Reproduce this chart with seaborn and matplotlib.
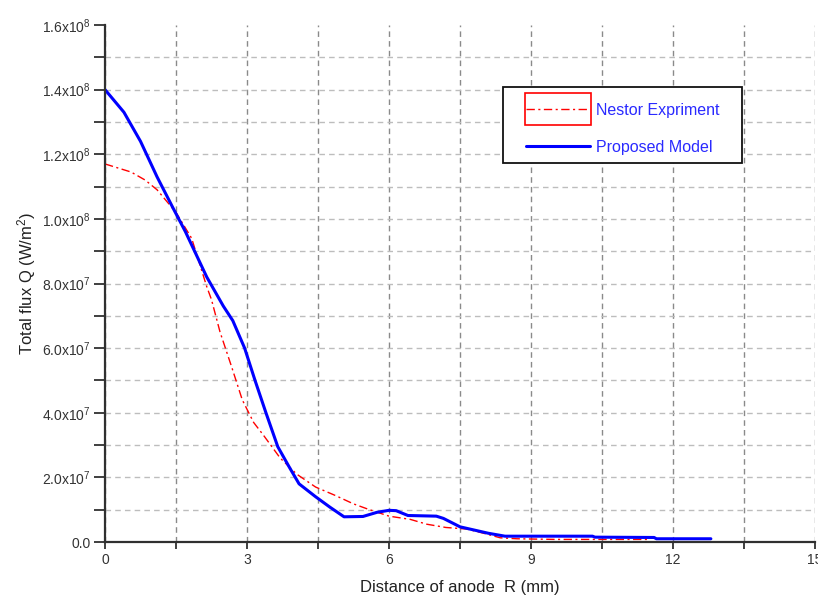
import numpy as np
import pandas as pd
import matplotlib
matplotlib.use("Agg")
import matplotlib.pyplot as plt
import matplotlib.ticker as mticker
from matplotlib.patches import Rectangle
import seaborn as sns

# ---------------- data ----------------
model_r = [0, 0.4, 0.75, 1.1, 1.45, 1.7, 2.15, 2.5, 2.7, 2.95, 3.17, 3.4, 3.65,
           3.9, 4.1, 4.45, 4.75, 5.05, 5.45, 5.75, 6.0, 6.15, 6.4, 7.0, 7.15,
           7.5, 7.8, 8.1, 8.45, 10.3, 10.35, 11.6, 11.65, 12.8]
model_q = [14.0, 13.3, 12.4, 11.3, 10.3, 9.6, 8.2, 7.3, 6.85, 6.0, 5.0, 4.0, 2.95,
           2.3, 1.8, 1.4, 1.08, 0.78, 0.79, 0.92, 0.98, 0.97, 0.82, 0.8, 0.73,
           0.47, 0.37, 0.27, 0.18, 0.18, 0.15, 0.14, 0.1, 0.1]  # x 1e7

exp_r = [0, 0.55, 0.85, 1.1, 1.5, 1.83, 2.15, 2.25, 2.43, 2.68, 2.9, 3.14, 3.35,
         3.7, 4.05, 4.45, 4.85, 5.25, 5.55, 6.0, 6.45, 6.8, 7.2, 7.65, 8.0,
         8.35, 8.7, 9.5, 11.5]
exp_q = [11.7, 11.45, 11.2, 10.9, 10.2, 9.4, 7.9, 7.5, 6.5, 5.4, 4.4, 3.7, 3.3,
         2.6, 2.1, 1.7, 1.45, 1.18, 1.02, 0.8, 0.7, 0.55, 0.45, 0.4, 0.27,
         0.13, 0.1, 0.08, 0.08]  # x 1e7

labels = ["Nestor Expriment", "Proposed Model"]

df_exp = pd.DataFrame({"R": exp_r, "Q": np.array(exp_q) * 1e7})
df_mod = pd.DataFrame({"R": model_r, "Q": np.array(model_q) * 1e7})

# ---------------- style ----------------
sns.set_style("white")
plt.rcParams["font.family"] = ["Liberation Sans", "DejaVu Sans"]
plt.rcParams["mathtext.fontset"] = "custom"
plt.rcParams["mathtext.rm"] = "Liberation Sans"
plt.rcParams["mathtext.it"] = "Liberation Sans:italic"

W, H = 818, 596
L, R, T, B = 105, 815, 25, 542
fig = plt.figure(figsize=(W / 100, H / 100), dpi=100)
ax = fig.add_axes([L / W, 1 - B / H, (R - L) / W, (B - T) / H])

sns.lineplot(data=df_exp, x="R", y="Q", ax=ax, sort=False, color="#ff0000",
             lw=1.0, label=labels[0])
ax.lines[-1].set_linestyle((0, (6, 2.5, 1.5, 2.5)))
sns.lineplot(data=df_mod, x="R", y="Q", ax=ax, sort=False, color="#0000ff",
             lw=2.2, label=labels[1])

ax.set_xlim(0, 15)
ax.set_ylim(0, 1.6e8)

ax.xaxis.set_major_locator(mticker.MultipleLocator(3))
ax.xaxis.set_minor_locator(mticker.MultipleLocator(1.5))
ax.yaxis.set_major_locator(mticker.MultipleLocator(2e7))
ax.yaxis.set_minor_locator(mticker.MultipleLocator(1e7))


def yfmt(v, pos):
    if abs(v) < 1:
        return "0.0"
    e = int(np.floor(np.log10(abs(v)) + 1e-9))
    m = v / 10 ** e
    return f"{m:.1f}x10$^{{{e}}}$"


ax.yaxis.set_major_formatter(mticker.FuncFormatter(yfmt))
ax.xaxis.set_major_formatter(mticker.FuncFormatter(lambda v, p: f"{v:g}"))

ax.grid(True, which="both", axis="x", linestyle=(0, (4, 3)), color="#8a8a8a", lw=1.0)
ax.grid(True, which="both", axis="y", linestyle=(0, (4, 3)), color="#bdbdbd", lw=1.0)
ax.set_axisbelow(True)
fig.canvas.draw()
for gl, t in zip(ax.yaxis.get_gridlines(), ax.yaxis.get_majorticklocs()):
    if t >= 1.6e8 - 1:
        gl.set_visible(False)

for s in ["top", "right"]:
    ax.spines[s].set_visible(False)
for s in ["left", "bottom"]:
    ax.spines[s].set_color("#303030")
    ax.spines[s].set_linewidth(1.6)

ax.tick_params(axis="both", which="major", direction="out", length=8, width=1.3,
               color="#303030", labelsize=10, labelcolor="#333333", bottom=True, left=True,
               pad=2)
ax.tick_params(axis="both", which="minor", direction="out", length=8, width=1.3,
               color="#303030", bottom=True, left=True)
ax.tick_params(axis="x", which="both", length=5, pad=3)

ax.set_xlabel("Distance of anode  R (mm)", fontsize=12, color="#222222", labelpad=9)
ax.set_ylabel("Total flux Q (W/m$^{2}$)", fontsize=12, color="#222222", labelpad=3)


def ax_x(px):
    return (px - L) / (R - L)


def ax_y(py):
    return (B - py) / (B - T)


# legend frame (pixel positions of the reference box)
frame = Rectangle((ax_x(503), ax_y(163)), ax_x(742) - ax_x(503), ax_y(87) - ax_y(163),
                  transform=ax.transAxes, fill=True, facecolor="white",
                  edgecolor="#111111", lw=1.3, zorder=9)
ax.add_patch(frame)

leg = ax.legend(loc="upper left", bbox_to_anchor=(ax_x(526), ax_y(103)), frameon=False,
                fontsize=11.5, handlelength=4.0, handletextpad=0.4, borderpad=0,
                labelspacing=1.35, borderaxespad=0)
leg.set_zorder(10)
for t in leg.get_texts():
    t.set_color("#2a2aff")
fig.canvas.draw()
h = leg.legend_handles[0]
bb = h.get_window_extent(fig.canvas.get_renderer())
pad_y = 16
rect = Rectangle((bb.x0 - 1, bb.y0 - pad_y + bb.height / 2), bb.width + 2, 2 * pad_y,
                 transform=None, fill=False, edgecolor="#ff0000", lw=1.2, zorder=11)
fig.patches.append(rect)
rect.set_figure(fig)

fig.savefig("out.png", dpi=100)
